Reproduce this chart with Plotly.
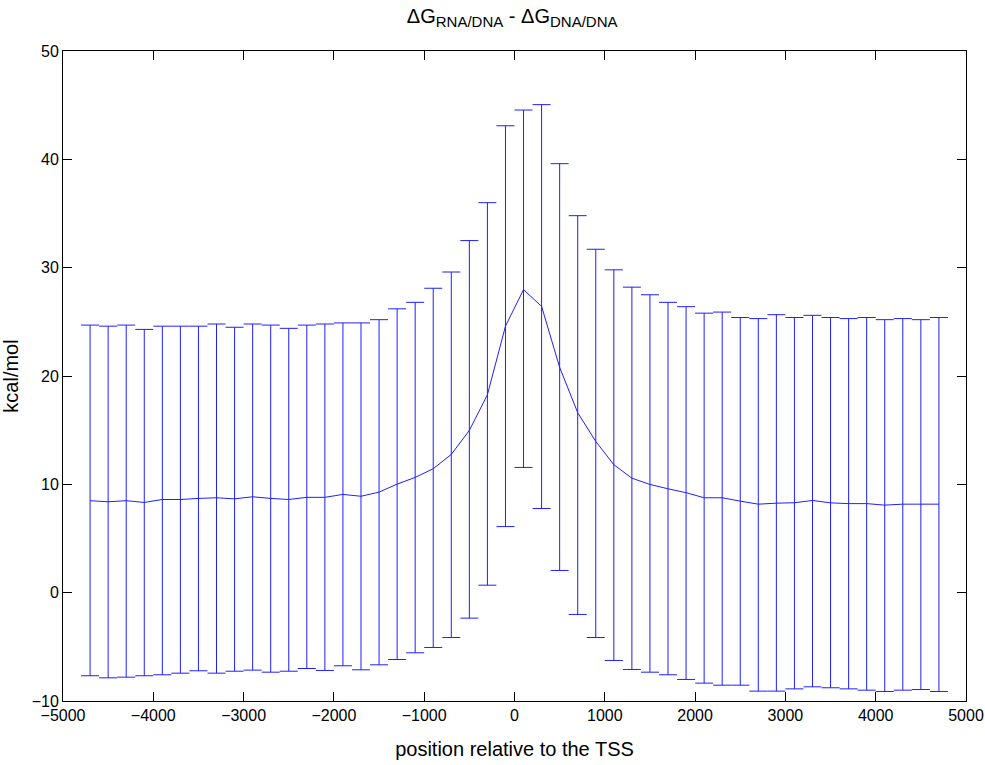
import plotly.graph_objects as go

positions = list(range(-4700, 4701, 200))

mean_vals = [8.49, 8.39, 8.49, 8.33, 8.6, 8.6, 8.7, 8.76, 8.66, 8.85,
             8.7, 8.6, 8.8, 8.8, 9.07, 8.9, 9.28, 10.02, 10.64, 11.44,
             12.76, 14.98, 18.27, 24.6, 27.97, 26.43, 20.8, 16.61, 13.96, 11.81,
             10.57, 9.99, 9.59, 9.23, 8.76, 8.76, 8.45, 8.17, 8.26, 8.3,
             8.51, 8.29, 8.22, 8.22, 8.08, 8.17, 8.17, 8.17]

upper_vals = [24.7, 24.6, 24.7, 24.3, 24.6, 24.6, 24.6, 24.8, 24.5, 24.8,
              24.7, 24.4, 24.7, 24.8, 24.9, 24.9, 25.2, 26.2, 26.8, 28.1,
              29.6, 32.5, 36.0, 43.1, 44.55, 45.05, 39.6, 34.8, 31.7, 29.8,
              28.2, 27.5, 26.8, 26.4, 25.8, 25.9, 25.4, 25.3, 25.66, 25.4,
              25.6, 25.4, 25.3, 25.4, 25.2, 25.3, 25.2, 25.4]

lower_vals = [-7.67, -7.86, -7.8, -7.67, -7.58, -7.43, -7.21, -7.43, -7.25, -7.15,
              -7.34, -7.25, -7.0, -7.18, -6.75, -7.12, -6.66, -6.17, -5.55, -5.06,
              -4.14, -2.35, 0.69, 6.1, 11.56, 7.77, 2.05, -2.01, -4.14, -6.26,
              -7.09, -7.34, -7.58, -8.01, -8.35, -8.54, -8.54, -9.09, -9.09, -8.88,
              -8.69, -8.78, -8.88, -9.0, -9.12, -9.0, -8.94, -9.12]

err_plus = [u - m for u, m in zip(upper_vals, mean_vals)]
err_minus = [m - l for m, l in zip(mean_vals, lower_vals)]

x_ticks = list(range(-5000, 5001, 1000))
y_ticks = list(range(-10, 51, 10))

blue = "#1f1fff"
font = "Liberation Sans, Arial, Helvetica, sans-serif"

fig = go.Figure()
fig.add_trace(go.Scatter(
    x=positions, y=mean_vals, mode="lines",
    line=dict(color=blue, width=1),
    error_y=dict(type="data", symmetric=False, array=err_plus, arrayminus=err_minus,
                 color=blue, thickness=1, width=9),
    showlegend=False,
))

axis_common = dict(
    showline=True, linecolor="black", linewidth=1, mirror="ticks",
    ticks="inside", ticklen=9, tickcolor="black", showgrid=False, zeroline=False,
    automargin=False,
    tickfont=dict(family=font, size=16, color="black"),
)

sub = "<sub><span style='font-size:15px'>{}</span></sub>"
title_text = "ΔG" + sub.format("RNA/DNA") + " - ΔG" + sub.format("DNA/DNA")

fig.update_layout(
    width=985, height=765,
    margin=dict(l=63, r=19, t=51, b=64),
    paper_bgcolor="white", plot_bgcolor="white",
    title=dict(text=title_text,
               x=0.52, xanchor="center", y=0.988, yanchor="top",
               font=dict(family=font, size=20, color="black")),
    xaxis=dict(range=[-5000, 5000], tickvals=x_ticks,
               title=dict(text="position relative to the TSS", standoff=18,
                          font=dict(family=font, size=20, color="black")),
               **axis_common),
    yaxis=dict(range=[-10, 50], tickvals=y_ticks,
               title=dict(text="kcal/mol", standoff=8,
                          font=dict(family=font, size=20, color="black")),
               **axis_common),
)

fig.write_html("out.html")
